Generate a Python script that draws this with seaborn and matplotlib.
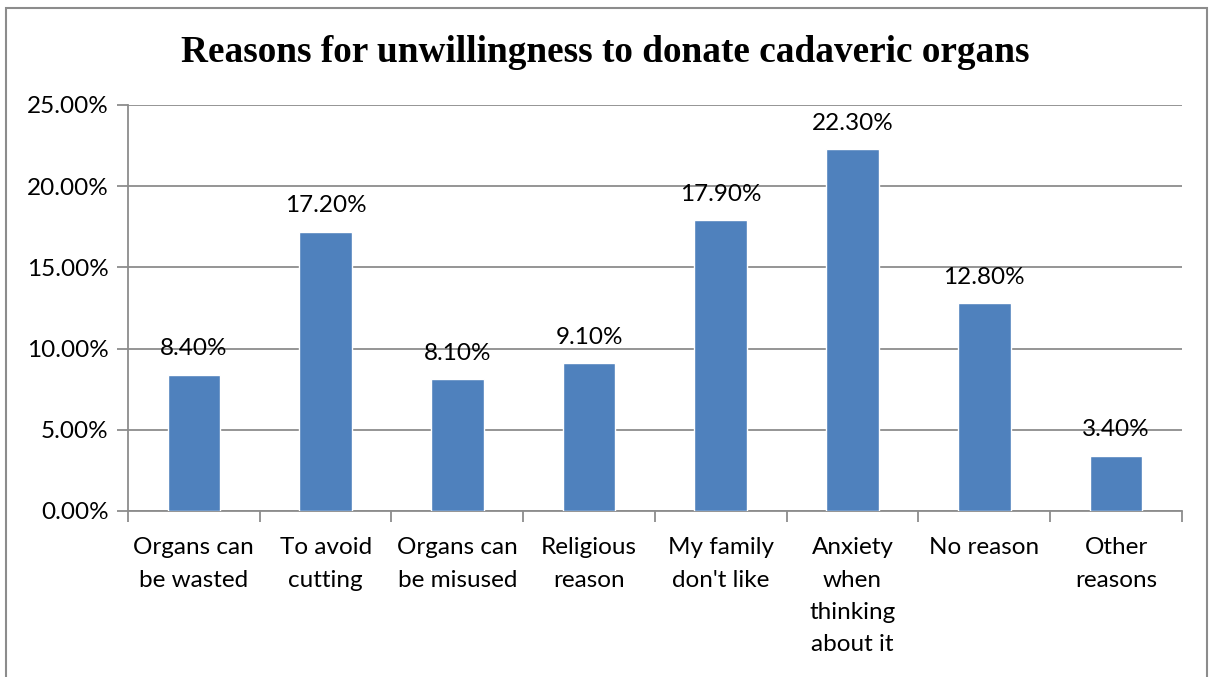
import matplotlib
matplotlib.use("Agg")
import matplotlib.pyplot as plt
from matplotlib.patches import Rectangle
from matplotlib.ticker import FuncFormatter
import seaborn as sns
import pandas as pd

title = "Reasons for unwillingness to donate cadaveric organs"
categories = [
    "Organs can\nbe wasted",
    "To avoid\ncutting",
    "Organs can\nbe misused",
    "Religious\nreason",
    "My family\ndon't like",
    "Anxiety\nwhen\nthinking\nabout it",
    "No reason",
    "Other\nreasons",
]
percentages = [8.4, 17.2, 8.1, 9.1, 17.9, 22.3, 12.8, 3.4]
y_ticks = [0, 5, 10, 15, 20, 25]

sns.set_theme(style="white")
plt.rcParams["font.family"] = ["Lato", "DejaVu Sans"]
plt.rcParams["text.color"] = "black"
plt.rcParams["xtick.labelcolor"] = "black"
plt.rcParams["ytick.labelcolor"] = "black"

df = pd.DataFrame({"reason": categories, "pct": percentages})

fig = plt.figure(figsize=(12.11, 6.77), dpi=100)
ax = fig.add_axes([0.1057, 0.2452, 0.8703, 0.5998])

sns.barplot(data=df, x="reason", y="pct", color="#4F81BD", saturation=1,
            width=0.40, ax=ax, zorder=3)

ax.set_ylim(0, 25)
ax.set_xlim(-0.5, len(categories) - 0.5)
ax.set_yticks(y_ticks)
ax.yaxis.set_major_formatter(FuncFormatter(lambda v, _: f"{v:.2f}%"))
ax.grid(axis="y", color="#8c8c8c", linewidth=1.3, zorder=0)
ax.set_axisbelow(True)

for side in ("top", "right"):
    ax.spines[side].set_visible(False)
for side in ("left", "bottom"):
    ax.spines[side].set_color("#8c8c8c")
    ax.spines[side].set_linewidth(1.3)

ax.set_xlabel("")
ax.set_ylabel("")

FS = 17.5

# category ticks sit between the bars; labels stay centred under each bar
ax.set_xticks([i - 0.5 for i in range(len(categories) + 1)], minor=True)
ax.tick_params(axis="x", which="minor", length=8, width=1.3, color="#8c8c8c",
               direction="out", bottom=True)
ax.tick_params(axis="x", which="major", length=0, pad=19, labelsize=FS)
ax.tick_params(axis="y", which="major", length=8, width=1.3, color="#8c8c8c",
               direction="out", left=True, pad=6, labelsize=FS)
for lbl in ax.get_xticklabels():
    lbl.set_linespacing(1.66)
    lbl.set_verticalalignment("top")

for container in ax.containers:
    ax.bar_label(container, labels=[f"{v:.2f}%" for v in percentages],
                 padding=11, fontsize=FS, color="black")

fig.text(0.5, 0.922, title, ha="center", va="center", color="black",
         fontsize=26.8, fontweight="bold", family="Liberation Serif")

# chart frame
fig.patches.append(Rectangle((0.005, -0.02), 0.992, 1.008, transform=fig.transFigure,
                             fill=False, edgecolor="#8c8c8c", linewidth=1.5))

fig.savefig("out.png", dpi=100, facecolor="white")
